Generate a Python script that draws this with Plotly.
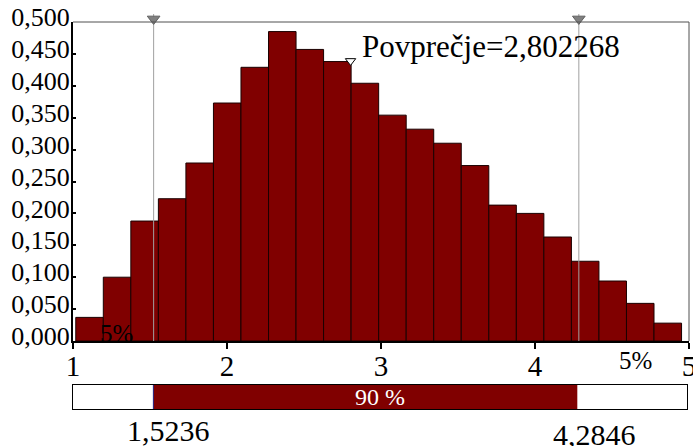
import plotly.graph_objects as go

# ---- data ----
bin_low = 1.018          # lower edge of first bin
bin_width = 0.1788
densities = [0.037, 0.100, 0.188, 0.223, 0.279, 0.373, 0.429, 0.485, 0.457, 0.438,
             0.404, 0.354, 0.332, 0.310, 0.275, 0.213, 0.200, 0.163, 0.125, 0.094,
             0.059, 0.028]
bin_centers = [bin_low + bin_width * (i + 0.5) for i in range(len(densities))]
p5 = 1.5236
p95 = 4.2846
mean_val = 2.802268
mean_height = 0.439
x_min, x_max = 1, 5
y_ticks = [0.0, 0.05, 0.10, 0.15, 0.20, 0.25, 0.30, 0.35, 0.40, 0.45, 0.50]
x_ticks = [1, 2, 3, 4, 5]
tail_left_label = "5%"
tail_right_label = "5%"
mid_label = "90 %"

MAROON = "#800000"
SERIF = "Liberation Serif, Times New Roman, serif"

# layout geometry (pixels)
H_TOP, H_MAIN_TOP, H_MAIN_BOT, H_BAND_TOP, H_BAND_BOT = 8, 22, 341, 385, 409
span = H_BAND_BOT - H_TOP
dom_main = [(H_BAND_BOT - H_MAIN_BOT) / span, (H_BAND_BOT - H_MAIN_TOP) / span]
dom_band = [0, (H_BAND_BOT - H_BAND_TOP) / span]
dom_top = [dom_main[1], 1]

fig = go.Figure()

fig.add_trace(go.Bar(
    x=bin_centers, y=densities, width=[bin_width] * len(densities),
    marker=dict(color=MAROON, line=dict(color="#1a0000", width=1)),
    xaxis="x", yaxis="y", showlegend=False, hoverinfo="skip"))

# percentile lines with triangle markers on top
for p in (p5, p95):
    fig.add_trace(go.Scatter(
        x=[p, p], y=[0, 0.5], mode="lines",
        line=dict(color="#a0a0a0", width=1),
        xaxis="x", yaxis="y", showlegend=False, hoverinfo="skip"))
    fig.add_trace(go.Scatter(
        x=[p, p], y=[0, 0.57], mode="lines",
        line=dict(color="#a0a0a0", width=1),
        xaxis="x", yaxis="y3", showlegend=False, hoverinfo="skip"))
    fig.add_trace(go.Scatter(
        x=[p], y=[0.22], mode="markers", cliponaxis=False,
        marker=dict(symbol="triangle-down", size=11, color="#808080",
                    line=dict(color="#606060", width=1)),
        xaxis="x", yaxis="y3", showlegend=False, hoverinfo="skip"))

# mean marker
fig.add_trace(go.Scatter(
    x=[mean_val], y=[mean_height], mode="markers", cliponaxis=False,
    marker=dict(symbol="triangle-down", size=9, color="white",
                line=dict(color="black", width=1)),
    xaxis="x", yaxis="y", showlegend=False, hoverinfo="skip"))

# bottom percentile band
fig.add_trace(go.Bar(
    y=[0.5], x=[p95 - p5], base=[p5], orientation="h", width=[1],
    marker=dict(color=MAROON, line=dict(width=0)),
    xaxis="x2", yaxis="y2", showlegend=False, hoverinfo="skip"))

annotations = [
    dict(x=mean_val, y=0.462, xref="x", yref="y", text=f"Povprečje={mean_val:.6f}".replace(".", ","),
         showarrow=False, xanchor="left", yanchor="middle", xshift=9,
         font=dict(family=SERIF, size=31, color="black")),
    dict(x=(x_min + p5) / 2, y=0.012, xref="x", yref="y", text=tail_left_label,
         showarrow=False, xanchor="center", yanchor="middle", xshift=3,
         font=dict(family=SERIF, size=25, color="black")),
    dict(x=(p95 + x_max) / 2, y=-0.06, xref="x", yref="y domain", text=tail_right_label,
         showarrow=False, xanchor="center", yanchor="middle", xshift=2,
         font=dict(family=SERIF, size=25, color="black")),
    dict(x=(x_min + x_max) / 2, y=0.5, xref="x2", yref="y2", text=mid_label,
         showarrow=False, xanchor="center", yanchor="middle",
         font=dict(family=SERIF, size=24, color="white")),
    dict(x=p5, y=-0.875, xref="x2", yref="y2 domain", text=f"{p5:.4f}".replace(".", ","),
         showarrow=False, xanchor="center", yanchor="middle", xshift=15,
         font=dict(family=SERIF, size=30, color="black")),
    dict(x=p95, y=-1.08, xref="x2", yref="y2 domain", text=f"{p95:.4f}".replace(".", ","),
         showarrow=False, xanchor="center", yanchor="middle", xshift=17,
         font=dict(family=SERIF, size=30, color="black")),
]

shapes = [
    # top and right frame of the histogram area
    dict(type="line", xref="x domain", yref="y domain", x0=0, x1=1, y0=1, y1=1,
         line=dict(color="#505050", width=1)),
    dict(type="line", xref="x domain", yref="y domain", x0=1, x1=1, y0=0, y1=1,
         line=dict(color="#505050", width=1)),
    # thin blue edge at band start
    dict(type="line", xref="x2", yref="y2", x0=p5, x1=p5, y0=0, y1=1,
         line=dict(color="#202080", width=1)),
]

fig.update_layout(
    width=693, height=446,
    margin=dict(l=73, r=4, t=H_TOP, b=446 - H_BAND_BOT, autoexpand=False),
    paper_bgcolor="white", plot_bgcolor="white",
    separators=", ",
    bargap=0.06,
    showlegend=False,
    annotations=annotations,
    shapes=shapes,
    xaxis=dict(range=[x_min, x_max], domain=[0, 1], anchor="y",
               tickvals=x_ticks, ticktext=[str(t) for t in x_ticks],
               ticks="outside", ticklen=6, tickwidth=2, tickcolor="black",
               showline=True, linecolor="black", linewidth=2,
               showgrid=False, zeroline=False, ticklabeloverflow="allow",
               ticklabelstandoff=-8,
               tickfont=dict(family=SERIF, size=29, color="black")),
    yaxis=dict(range=[0, 0.5], domain=dom_main, anchor="x",
               tickvals=y_ticks, tickformat=".3f",
               ticks="inside", ticklen=3, tickwidth=2, tickcolor="black",
               showline=True, linecolor="black", linewidth=2,
               showgrid=False, zeroline=False, ticklabelshift=-5,
               ticklabelstandoff=-4, ticklabeloverflow="allow",
               tickfont=dict(family=SERIF, size=26, color="black")),
    yaxis3=dict(range=[0, 1], domain=dom_top, anchor="x",
                showticklabels=False, ticks="", showgrid=False, zeroline=False,
                showline=False),
    xaxis2=dict(range=[x_min, x_max], domain=[0, 0.997], anchor="y2",
                showticklabels=False, ticks="", showgrid=False, zeroline=False,
                showline=True, mirror=True, linecolor="black", linewidth=1),
    yaxis2=dict(range=[0, 1], domain=dom_band, anchor="x2",
                showticklabels=False, ticks="", showgrid=False, zeroline=False,
                showline=True, mirror=True, linecolor="black", linewidth=1),
)

fig.write_html("out.html", config={"displayModeBar": False},
               post_script="document.body.style.margin='0';document.body.style.overflow='hidden';")
